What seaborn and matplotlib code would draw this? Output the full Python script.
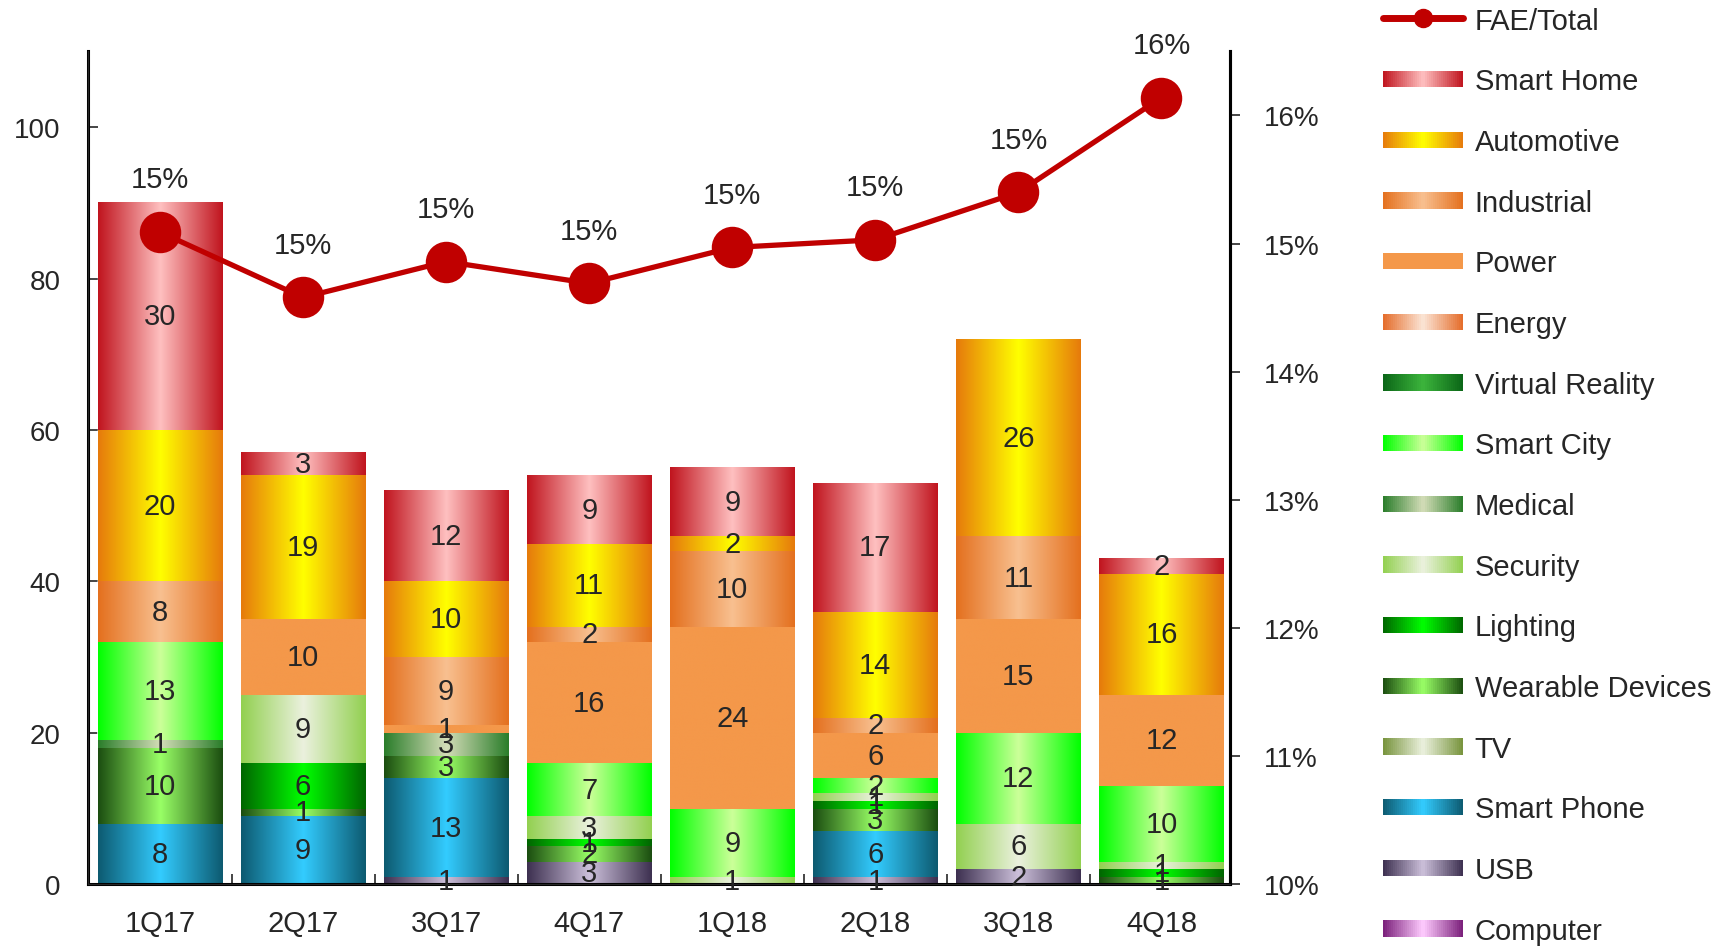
import numpy as np, pandas as pd, matplotlib
matplotlib.use("Agg")
import matplotlib.pyplot as plt
from matplotlib.colors import LinearSegmentedColormap
from matplotlib.legend_handler import HandlerBase
from matplotlib.lines import Line2D
from matplotlib.patches import Rectangle
from matplotlib.ticker import FixedLocator, FuncFormatter
import seaborn as sns

sns.set_style("white")
plt.rcParams['font.family'] = ['Liberation Sans', 'DejaVu Sans']

# data
quarters = ['1Q17', '2Q17', '3Q17', '4Q17', '1Q18', '2Q18', '3Q18', '4Q18']

# stack order bottom -> top
segments = ['Computer', 'USB', 'Smart Phone', 'TV', 'Wearable Devices', 'Lighting',
            'Security', 'Medical', 'Smart City', 'Virtual Reality', 'Energy', 'Power',
            'Industrial', 'Automotive', 'Smart Home']

computer   = [0, 0, 0, 0, 0, 0, 0, 0]
usb        = [0, 0, 1, 3, 0, 1, 2, 0]
smartphone = [8, 9, 13, 0, 0, 6, 0, 0]
tv         = [0, 0, 0, 0, 0, 0, 0, 0]
wearable   = [10, 1, 3, 2, 0, 3, 0, 1]
lighting   = [0, 6, 0, 1, 0, 1, 0, 1]
security   = [0, 9, 0, 3, 1, 1, 6, 1]
medical    = [1, 0, 3, 0, 0, 0, 0, 0]
smartcity  = [13, 0, 0, 7, 9, 2, 12, 10]
vr         = [0, 0, 0, 0, 0, 0, 0, 0]
energy     = [0, 0, 0, 0, 0, 0, 0, 0]
power      = [0, 10, 1, 16, 24, 6, 15, 12]
industrial = [8, 0, 9, 2, 10, 2, 11, 0]
automotive = [20, 19, 10, 11, 2, 14, 26, 16]
smarthome  = [30, 3, 12, 9, 9, 17, 0, 2]

fae_total = [15.09, 14.58, 14.86, 14.69, 14.97, 15.03, 15.40, 16.14]  # %

values = [computer, usb, smartphone, tv, wearable, lighting, security, medical,
          smartcity, vr, energy, power, industrial, automotive, smarthome]

# (edge colour, centre colour) of each gradient
grad_colors = {
    'Computer':         ('#7a1f7a', '#ffccff'),
    'USB':              ('#3d3050', '#ccc0da'),
    'Smart Phone':      ('#0d5a70', '#33ccff'),
    'TV':               ('#77933c', '#ebf1de'),
    'Wearable Devices': ('#1b4d10', '#99ff66'),
    'Lighting':         ('#006600', '#00ff00'),
    'Security':         ('#92d050', '#ebf1de'),
    'Medical':          ('#2a7d2a', '#d4ddb8'),
    'Smart City':       ('#00ff00', '#ccff99'),
    'Virtual Reality':  ('#0b6617', '#3cb43c'),
    'Energy':           ('#e46c2a', '#fbe5d6'),
    'Power':            ('#f4984a', '#f4984a'),
    'Industrial':       ('#e4701e', '#f8c090'),
    'Automotive':       ('#e67a0c', '#ffff00'),
    'Smart Home':       ('#c0141e', '#ffc0c0'),
}

df = pd.DataFrame(dict(zip(segments, values)), index=quarters)
cum = df.cumsum(axis=1)

fig = plt.figure(figsize=(17.35, 9.53), dpi=100)
ax = fig.add_axes([0.051, 0.071, 0.658, 0.874])

bar_w = 0.87
grad = np.linspace(0, 1, 256).reshape(1, -1)

# stacked bars: draw cumulative totals from the top layer down
layer_patches = {}
for seg in segments[::-1]:
    n0 = len(ax.patches)
    sns.barplot(x=quarters, y=cum[seg].values, color=grad_colors[seg][0],
                saturation=1, width=bar_w, ax=ax, zorder=1)
    layer_patches[seg] = ax.patches[n0:]

for k, seg in enumerate(segments):
    edge, center = grad_colors[seg]
    cmap = LinearSegmentedColormap.from_list(seg, [edge, center, edge])
    for j, p in enumerate(layer_patches[seg]):
        v = df[seg].iloc[j]
        if v <= 0:
            continue
        top = cum[seg].iloc[j]
        bottom = top - v
        x0 = p.get_x()
        ax.imshow(grad, cmap=cmap, extent=[x0, x0 + p.get_width(), bottom, top],
                  aspect='auto', zorder=2, interpolation='bilinear')
        ax.text(x0 + p.get_width() / 2, bottom + v / 2, str(v), ha='center',
                va='center', fontsize=21, zorder=5)

ax.set_xlim(-0.5, 7.48)
ax.set_ylim(0, 110)
ax.set_yticks([0, 20, 40, 60, 80, 100])
ax.xaxis.set_minor_locator(FixedLocator(np.arange(0.5, 7, 1)))
ax.tick_params(axis='x', which='major', length=0, labelsize=21, pad=18)
ax.tick_params(axis='x', which='minor', direction='in', length=7, width=1.2, bottom=True)
ax.tick_params(axis='y', direction='in', length=7, width=1.2, labelsize=20, pad=20, left=True)
ax.set_xlabel('')
for s in ['left', 'bottom', 'right']:
    ax.spines[s].set_linewidth(2.2)
    ax.spines[s].set_color('black')
ax.spines['top'].set_visible(False)

# FAE/Total line on the right axis
ax2 = ax.twinx()
line_color = '#c00000'
sns.pointplot(x=quarters, y=fae_total, color=line_color, errorbar=None,
              markers='o', linewidth=3.8, markersize=27, ax=ax2)
for i, v in enumerate(fae_total):
    ax2.annotate(f"{v:.0f}%", (i, v), xytext=(0, 38), textcoords='offset points',
                 ha='center', va='center', fontsize=21)
ax2.set_ylim(10, 16.5)
ax2.set_yticks(range(10, 17))
ax2.yaxis.set_major_formatter(FuncFormatter(lambda x, _: f"{x:.0f}%"))
ax2.tick_params(axis='y', direction='out', length=7, width=1.2, labelsize=20, pad=17, right=True)
ax2.set_xlim(-0.5, 7.48)
ax2.spines['top'].set_visible(False)
ax2.spines['right'].set_linewidth(2.2)
ax2.spines['right'].set_color('black')
ax2.grid(False)
ax.grid(False)


class GradientHandler(HandlerBase):
    def __init__(self, edge, center):
        super().__init__()
        self.cmap = LinearSegmentedColormap.from_list('h', [edge, center, edge])

    def create_artists(self, legend, orig_handle, xdescent, ydescent, width, height,
                       fontsize, trans):
        n = 40
        h = height * 0.8
        y0 = -ydescent + (height - h) / 2
        arts = []
        for k in range(n):
            arts.append(Rectangle((-xdescent + width * k / n, y0), width / n * 1.05, h,
                                  facecolor=self.cmap((k + 0.5) / n), edgecolor='none',
                                  transform=trans))
        return arts


handles = [Line2D([], [], color=line_color, lw=5, marker='o', markersize=13,
                  solid_capstyle='round')]
labels = ['FAE/Total']
hmap = {}
for seg in segments[::-1]:
    h = Rectangle((0, 0), 1, 1)
    handles.append(h)
    labels.append(seg)
    hmap[h] = GradientHandler(*grad_colors[seg])

fig.legend(handles, labels, handler_map=hmap, loc='upper left',
           bbox_to_anchor=(0.797, 0.992), frameon=False, fontsize=21,
           borderpad=0, borderaxespad=0, handlelength=2.75, handletextpad=0.4,
           labelspacing=1.12)

fig.savefig('out.png', dpi=100)
